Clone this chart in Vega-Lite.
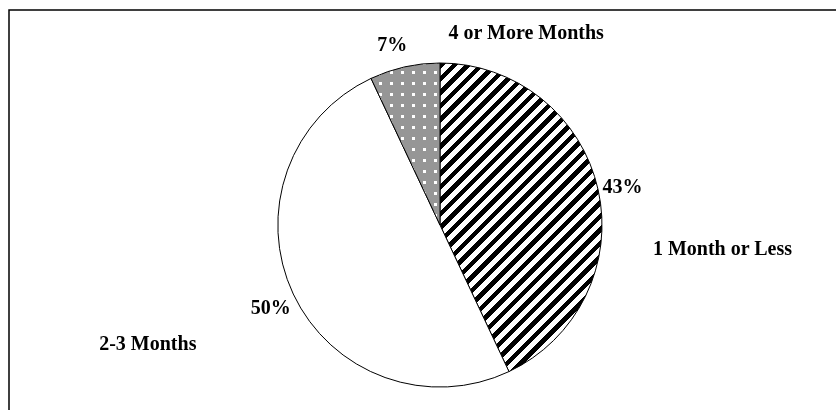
{
  "$schema": "https://vega.github.io/schema/vega-lite/v6.json",
  "width": 862,
  "height": 430,
  "padding": {"left": 9, "top": 10, "right": 0, "bottom": 0},
  "autosize": {"type": "none"},
  "background": "white",
  "view": {"stroke": "black", "strokeWidth": 1.5},
  "config": {
    "view": {"stroke": "black", "strokeWidth": 1.5},
    "text": {"font": "Liberation Serif", "fontWeight": "bold", "fontSize": 20, "color": "black", "align": "center", "baseline": "middle"}
  },
  "data": {
    "values": [
      {"k": 1, "label": "1 Month or Less", "pct": 43, "pctText": "43%"},
      {"k": 2, "label": "2-3 Months", "pct": 50, "pctText": "50%"},
      {"k": 3, "label": "4 or More Months", "pct": 7, "pctText": "7%"}
    ]
  },
  "encoding": {
    "theta": {"field": "pct", "type": "quantitative", "stack": true, "scale": {"domain": [0, 100]}},
    "order": {"field": "k", "type": "ordinal"}
  },
  "layer": [
    {
      "mark": {"type": "arc", "outerRadius": 162, "stroke": "black", "strokeWidth": 1},
      "encoding": {
        "fill": {
          "condition": [
            {
              "test": "datum.k == 1",
              "value": {
                "gradient": "linear", "x1": 0, "y1": 0, "x2": 0.6276, "y2": 1.1955,
                "stops": [
                  {"offset": 0, "color": "black"}, {"offset": 0.0129, "color": "black"}, {"offset": 0.0129, "color": "white"}, {"offset": 0.02869, "color": "white"},
                  {"offset": 0.02869, "color": "black"}, {"offset": 0.04159, "color": "black"}, {"offset": 0.04159, "color": "white"}, {"offset": 0.05737, "color": "white"},
                  {"offset": 0.05737, "color": "black"}, {"offset": 0.07027, "color": "black"}, {"offset": 0.07027, "color": "white"}, {"offset": 0.08606, "color": "white"},
                  {"offset": 0.08606, "color": "black"}, {"offset": 0.09896, "color": "black"}, {"offset": 0.09896, "color": "white"}, {"offset": 0.11475, "color": "white"},
                  {"offset": 0.11475, "color": "black"}, {"offset": 0.12765, "color": "black"}, {"offset": 0.12765, "color": "white"}, {"offset": 0.14344, "color": "white"},
                  {"offset": 0.14344, "color": "black"}, {"offset": 0.15634, "color": "black"}, {"offset": 0.15634, "color": "white"}, {"offset": 0.17212, "color": "white"},
                  {"offset": 0.17212, "color": "black"}, {"offset": 0.18502, "color": "black"}, {"offset": 0.18502, "color": "white"}, {"offset": 0.20081, "color": "white"},
                  {"offset": 0.20081, "color": "black"}, {"offset": 0.21371, "color": "black"}, {"offset": 0.21371, "color": "white"}, {"offset": 0.2295, "color": "white"},
                  {"offset": 0.2295, "color": "black"}, {"offset": 0.2424, "color": "black"}, {"offset": 0.2424, "color": "white"}, {"offset": 0.25818, "color": "white"},
                  {"offset": 0.25818, "color": "black"}, {"offset": 0.27108, "color": "black"}, {"offset": 0.27108, "color": "white"}, {"offset": 0.28687, "color": "white"},
                  {"offset": 0.28687, "color": "black"}, {"offset": 0.29977, "color": "black"}, {"offset": 0.29977, "color": "white"}, {"offset": 0.31556, "color": "white"},
                  {"offset": 0.31556, "color": "black"}, {"offset": 0.32846, "color": "black"}, {"offset": 0.32846, "color": "white"}, {"offset": 0.34424, "color": "white"},
                  {"offset": 0.34424, "color": "black"}, {"offset": 0.35714, "color": "black"}, {"offset": 0.35714, "color": "white"}, {"offset": 0.37293, "color": "white"},
                  {"offset": 0.37293, "color": "black"}, {"offset": 0.38583, "color": "black"}, {"offset": 0.38583, "color": "white"}, {"offset": 0.40162, "color": "white"},
                  {"offset": 0.40162, "color": "black"}, {"offset": 0.41452, "color": "black"}, {"offset": 0.41452, "color": "white"}, {"offset": 0.43031, "color": "white"},
                  {"offset": 0.43031, "color": "black"}, {"offset": 0.44321, "color": "black"}, {"offset": 0.44321, "color": "white"}, {"offset": 0.45899, "color": "white"},
                  {"offset": 0.45899, "color": "black"}, {"offset": 0.47189, "color": "black"}, {"offset": 0.47189, "color": "white"}, {"offset": 0.48768, "color": "white"},
                  {"offset": 0.48768, "color": "black"}, {"offset": 0.50058, "color": "black"}, {"offset": 0.50058, "color": "white"}, {"offset": 0.51637, "color": "white"},
                  {"offset": 0.51637, "color": "black"}, {"offset": 0.52927, "color": "black"}, {"offset": 0.52927, "color": "white"}, {"offset": 0.54505, "color": "white"},
                  {"offset": 0.54505, "color": "black"}, {"offset": 0.55795, "color": "black"}, {"offset": 0.55795, "color": "white"}, {"offset": 0.57374, "color": "white"},
                  {"offset": 0.57374, "color": "black"}, {"offset": 0.58664, "color": "black"}, {"offset": 0.58664, "color": "white"}, {"offset": 0.60243, "color": "white"},
                  {"offset": 0.60243, "color": "black"}, {"offset": 0.61533, "color": "black"}, {"offset": 0.61533, "color": "white"}, {"offset": 0.63111, "color": "white"},
                  {"offset": 0.63111, "color": "black"}, {"offset": 0.64401, "color": "black"}, {"offset": 0.64401, "color": "white"}, {"offset": 0.6598, "color": "white"},
                  {"offset": 0.6598, "color": "black"}, {"offset": 0.6727, "color": "black"}, {"offset": 0.6727, "color": "white"}, {"offset": 0.68849, "color": "white"},
                  {"offset": 0.68849, "color": "black"}, {"offset": 0.70139, "color": "black"}, {"offset": 0.70139, "color": "white"}, {"offset": 0.71718, "color": "white"},
                  {"offset": 0.71718, "color": "black"}, {"offset": 0.73008, "color": "black"}, {"offset": 0.73008, "color": "white"}, {"offset": 0.74586, "color": "white"},
                  {"offset": 0.74586, "color": "black"}, {"offset": 0.75876, "color": "black"}, {"offset": 0.75876, "color": "white"}, {"offset": 0.77455, "color": "white"},
                  {"offset": 0.77455, "color": "black"}, {"offset": 0.78745, "color": "black"}, {"offset": 0.78745, "color": "white"}, {"offset": 0.80324, "color": "white"},
                  {"offset": 0.80324, "color": "black"}, {"offset": 0.81614, "color": "black"}, {"offset": 0.81614, "color": "white"}, {"offset": 0.83192, "color": "white"},
                  {"offset": 0.83192, "color": "black"}, {"offset": 0.84482, "color": "black"}, {"offset": 0.84482, "color": "white"}, {"offset": 0.86061, "color": "white"},
                  {"offset": 0.86061, "color": "black"}, {"offset": 0.87351, "color": "black"}, {"offset": 0.87351, "color": "white"}, {"offset": 0.8893, "color": "white"},
                  {"offset": 0.8893, "color": "black"}, {"offset": 0.9022, "color": "black"}, {"offset": 0.9022, "color": "white"}, {"offset": 0.91798, "color": "white"},
                  {"offset": 0.91798, "color": "black"}, {"offset": 0.93088, "color": "black"}, {"offset": 0.93088, "color": "white"}, {"offset": 0.94667, "color": "white"},
                  {"offset": 0.94667, "color": "black"}, {"offset": 0.95957, "color": "black"}, {"offset": 0.95957, "color": "white"}, {"offset": 0.97536, "color": "white"},
                  {"offset": 0.97536, "color": "black"}, {"offset": 0.98826, "color": "black"}, {"offset": 0.98826, "color": "white"}, {"offset": 1, "color": "white"}
                ]
              }
            },
            {
              "test": "datum.k == 3",
              "value": {
                "gradient": "linear", "x1": 0, "y1": 0, "x2": 1, "y2": 0,
                "stops": [
                  {"offset": 0, "color": "#969696"}, {"offset": 0.1203, "color": "#969696"}, {"offset": 0.1203, "color": "white"}, {"offset": 0.1594, "color": "white"},
                  {"offset": 0.1594, "color": "#969696"}, {"offset": 0.2797, "color": "#969696"}, {"offset": 0.2797, "color": "white"}, {"offset": 0.3188, "color": "white"},
                  {"offset": 0.3188, "color": "#969696"}, {"offset": 0.4391, "color": "#969696"}, {"offset": 0.4391, "color": "white"}, {"offset": 0.4782, "color": "white"},
                  {"offset": 0.4782, "color": "#969696"}, {"offset": 0.5985, "color": "#969696"}, {"offset": 0.5985, "color": "white"}, {"offset": 0.6376, "color": "white"},
                  {"offset": 0.6376, "color": "#969696"}, {"offset": 0.7579, "color": "#969696"}, {"offset": 0.7579, "color": "white"}, {"offset": 0.797, "color": "white"},
                  {"offset": 0.797, "color": "#969696"}, {"offset": 0.9173, "color": "#969696"}, {"offset": 0.9173, "color": "white"}, {"offset": 0.9564, "color": "white"},
                  {"offset": 0.9564, "color": "#969696"}, {"offset": 1, "color": "#969696"}
                ]
              }
            }
          ],
          "value": "white"
        }
      }
    },
    {
      "mark": {"type": "arc", "outerRadius": 162, "strokeWidth": 0, "blend": "darken"},
      "encoding": {
        "fill": {
          "condition": {
            "test": "datum.k == 3",
            "value": {
              "gradient": "linear", "x1": 0, "y1": 0, "x2": 0, "y2": 1,
              "stops": [
                {"offset": 0, "color": "#969696"}, {"offset": 0.0512, "color": "#969696"}, {"offset": 0.0512, "color": "white"}, {"offset": 0.0679, "color": "white"},
                {"offset": 0.0679, "color": "#969696"}, {"offset": 0.1191, "color": "#969696"}, {"offset": 0.1191, "color": "white"}, {"offset": 0.1358, "color": "white"},
                {"offset": 0.1358, "color": "#969696"}, {"offset": 0.187, "color": "#969696"}, {"offset": 0.187, "color": "white"}, {"offset": 0.2037, "color": "white"},
                {"offset": 0.2037, "color": "#969696"}, {"offset": 0.2549, "color": "#969696"}, {"offset": 0.2549, "color": "white"}, {"offset": 0.2716, "color": "white"},
                {"offset": 0.2716, "color": "#969696"}, {"offset": 0.3228, "color": "#969696"}, {"offset": 0.3228, "color": "white"}, {"offset": 0.3395, "color": "white"},
                {"offset": 0.3395, "color": "#969696"}, {"offset": 0.3907, "color": "#969696"}, {"offset": 0.3907, "color": "white"}, {"offset": 0.4074, "color": "white"},
                {"offset": 0.4074, "color": "#969696"}, {"offset": 0.4586, "color": "#969696"}, {"offset": 0.4586, "color": "white"}, {"offset": 0.4753, "color": "white"},
                {"offset": 0.4753, "color": "#969696"}, {"offset": 0.5265, "color": "#969696"}, {"offset": 0.5265, "color": "white"}, {"offset": 0.5432, "color": "white"},
                {"offset": 0.5432, "color": "#969696"}, {"offset": 0.5944, "color": "#969696"}, {"offset": 0.5944, "color": "white"}, {"offset": 0.6111, "color": "white"},
                {"offset": 0.6111, "color": "#969696"}, {"offset": 0.6623, "color": "#969696"}, {"offset": 0.6623, "color": "white"}, {"offset": 0.679, "color": "white"},
                {"offset": 0.679, "color": "#969696"}, {"offset": 0.7302, "color": "#969696"}, {"offset": 0.7302, "color": "white"}, {"offset": 0.7469, "color": "white"},
                {"offset": 0.7469, "color": "#969696"}, {"offset": 0.7981, "color": "#969696"}, {"offset": 0.7981, "color": "white"}, {"offset": 0.8148, "color": "white"},
                {"offset": 0.8148, "color": "#969696"}, {"offset": 0.866, "color": "#969696"}, {"offset": 0.866, "color": "white"}, {"offset": 0.8827, "color": "white"},
                {"offset": 0.8827, "color": "#969696"}, {"offset": 0.9339, "color": "#969696"}, {"offset": 0.9339, "color": "white"}, {"offset": 0.9506, "color": "white"},
                {"offset": 0.9506, "color": "#969696"}, {"offset": 1, "color": "#969696"}
              ]
            }
          },
          "value": "transparent"
        }
      }
    },
    {
      "mark": {"type": "text", "radius": 187, "dy": 3},
      "encoding": {"text": {"condition": {"test": "datum.k != 3", "field": "pctText"}, "value": ""}}
    },
    {
      "mark": {"type": "text", "radius": 187, "dx": -7, "dy": 2},
      "encoding": {"text": {"condition": {"test": "datum.k == 3", "field": "pctText"}, "value": ""}}
    },
    {
      "mark": {"type": "text", "radius": 187, "dx": 100, "dy": 65},
      "encoding": {"text": {"condition": {"test": "datum.k == 1", "field": "label"}, "value": ""}}
    },
    {
      "mark": {"type": "text", "radius": 187, "dx": -123, "dy": 39},
      "encoding": {"text": {"condition": {"test": "datum.k == 2", "field": "label"}, "value": ""}}
    },
    {
      "mark": {"type": "text", "radius": 187, "dx": 127, "dy": -10},
      "encoding": {"text": {"condition": {"test": "datum.k == 3", "field": "label"}, "value": ""}}
    }
  ]
}
